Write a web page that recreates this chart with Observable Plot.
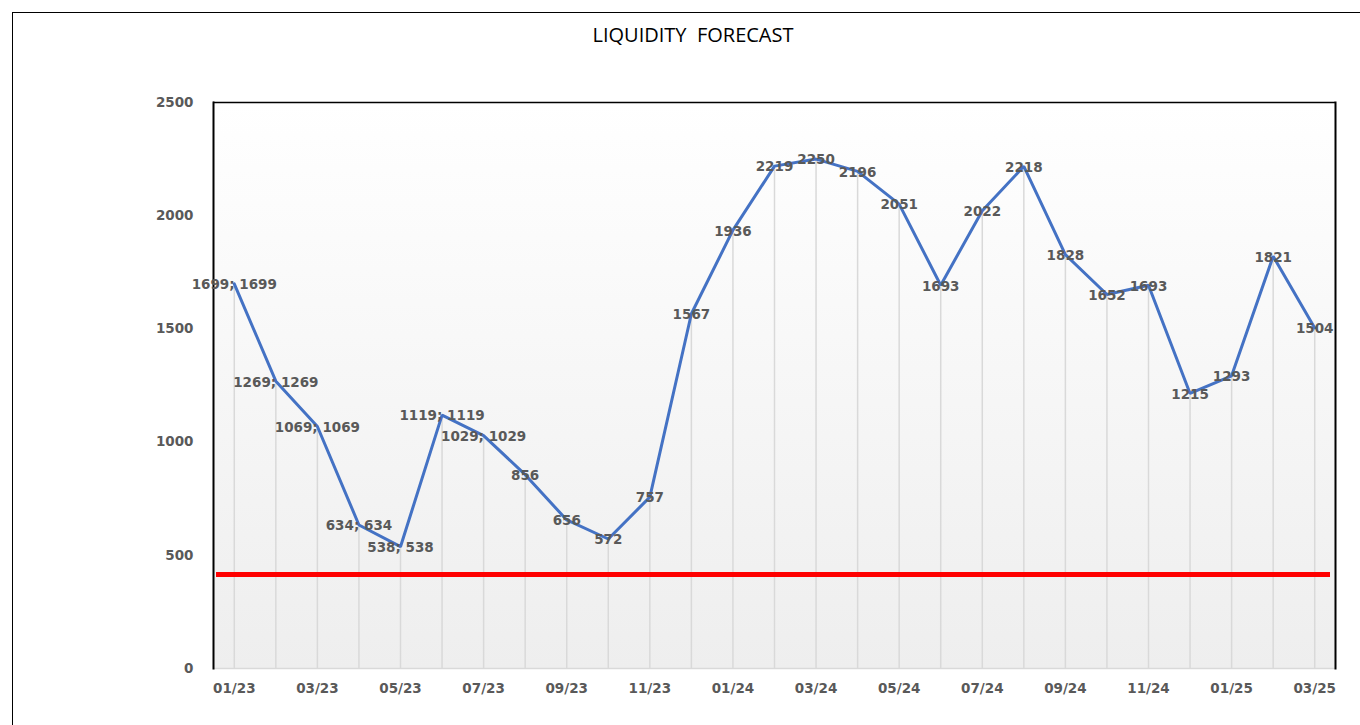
<!DOCTYPE html>
<html>
<head>
<meta charset="utf-8">
<script src="https://cdn.jsdelivr.net/npm/d3@7"></script>
<script src="https://cdn.jsdelivr.net/npm/@observablehq/plot@0.6"></script>
<style>
  html, body { margin: 0; padding: 0; background: #fff; overflow: hidden; }
  #frame { position: absolute; left: 12px; top: 12px; width: 1400px; height: 800px; border: 1.5px solid #000; box-sizing: border-box; }
  #title { position: absolute; left: 0; width: 1386px; top: 21px; text-align: center; font-family: "Open Sans", Lato, sans-serif; font-size: 20px; color: #000; white-space: pre; }
  #chart { position: absolute; left: 0; top: 0; }
</style>
</head>
<body>
<div id="frame"></div>
<div id="title">LIQUIDITY  FORECAST</div>
<div id="chart"></div>
<script>
const months = ["01/23","02/23","03/23","04/23","05/23","06/23","07/23","08/23","09/23","10/23","11/23","12/23",
                "01/24","02/24","03/24","04/24","05/24","06/24","07/24","08/24","09/24","10/24","11/24","12/24",
                "01/25","02/25","03/25"];
const values = [1699,1269,1069,634,538,1119,1029,856,656,572,757,1567,
                1936,2219,2250,2196,2051,1693,2022,2218,1828,1652,1693,1215,
                1293,1821,1504];
const pairedLabelCount = 7; // first points show "value; value"
const xTickLabels = ["01/23","03/23","05/23","07/23","09/23","11/23","01/24","03/24","05/24","07/24","09/24","11/24","01/25","03/25"];
const yTicks = [0,500,1000,1500,2000,2500];
const threshold = [415];

const data = months.map((m, i) => ({
  month: m,
  value: values[i],
  label: i < pairedLabelCount ? `${values[i]}; ${values[i]}` : `${values[i]}`
}));

const labelFont = "'DejaVu Sans', Verdana, sans-serif";

const chart = Plot.plot({
  width: 1360,
  height: 725,
  marginLeft: 213,
  marginRight: 25,
  marginTop: 102,
  marginBottom: 57,
  style: { fontFamily: labelFont, background: "transparent", overflow: "visible" },
  x: { type: "point", domain: months, padding: 0.5, round: false, label: null },
  y: { domain: [0, 2500], label: null },
  marks: [
    Plot.frame({ fill: "url(#bggrad)", stroke: "none" }),
    Plot.ruleX(data, { x: "month", y1: 0, y2: "value", stroke: "#d9d9d9", strokeWidth: 1.5 }),
    Plot.ruleY([0], { stroke: "#d9d9d9", strokeWidth: 1.5 }),
    Plot.ruleY([2500], { stroke: "#000", strokeWidth: 1.5 }),
    Plot.frame({ anchor: "left", stroke: "#000", strokeWidth: 2 }),
    Plot.frame({ anchor: "right", stroke: "#000", strokeWidth: 2 }),
    Plot.ruleY(threshold, { stroke: "#ff0000", strokeWidth: 5, insetLeft: 3, insetRight: 5 }),
    Plot.line(data, { x: "month", y: "value", stroke: "#4472c4", strokeWidth: 3, strokeLinejoin: "miter" }),
    Plot.text(data, { x: "month", y: "value", text: "label", fill: "#595959", fontWeight: "bold", fontSize: 13.5, dy: 1, fontFamily: labelFont }),
    Plot.axisY({ ticks: yTicks, tickFormat: d3.format("d"), tickSize: 0, tickPadding: 20, fontSize: 13.5, fontWeight: "bold", fill: "#595959", label: null }),
    Plot.axisX({ ticks: xTickLabels, tickSize: 0, tickPadding: 15, fontSize: 13.5, fontWeight: "bold", fill: "#595959", label: null })
  ]
});

const defs = d3.create("svg:defs");
const grad = defs.append("linearGradient").attr("id", "bggrad").attr("x1", 0).attr("y1", 0).attr("x2", 0).attr("y2", 1);
grad.append("stop").attr("offset", "0%").attr("stop-color", "#ffffff");
grad.append("stop").attr("offset", "100%").attr("stop-color", "#eeeeee");
chart.insertBefore(defs.node(), chart.firstChild);

document.getElementById("chart").appendChild(chart);
</script>
</body>
</html>
